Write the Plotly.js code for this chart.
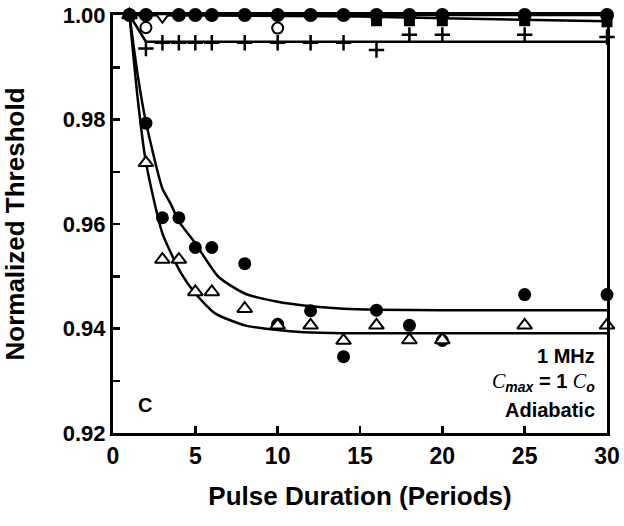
<!DOCTYPE html>
<html><head><meta charset="utf-8">
<script src="https://cdn.plot.ly/plotly-3.0.1.min.js"></script>
<style>body{margin:0;background:#fff}#chart{width:624px;height:526px}</style>
</head><body><div id="chart"></div>
<script>
// Decreasing series: filled circles
const xCircle = [1,2,3,4,5,6,8,10,12,14,16,18,20,25,30];
const yCircle = [1.000,0.9793,0.9612,0.9612,0.9555,0.9555,0.9524,0.9408,0.9434,0.9346,0.9435,0.9406,0.9377,0.9465,0.9465];
// Decreasing series: open triangles
const xTriangle = [1,2,3,4,5,6,8,10,12,14,16,18,20,25,30];
const yTriangle = [1.000,0.9717,0.9532,0.9532,0.9470,0.9470,0.9438,0.9406,0.9406,0.9377,0.9406,0.9378,0.9378,0.9406,0.9406];
// Fitted curves
const xCircleFit = [1,1.5,2,3,3.5,4,5,6.4,8,10,11.6,14,16,20,30];
const yCircleFit = [1.000,0.9885,0.9795,0.9668,0.9639,0.9605,0.9563,0.9499,0.9467,0.9451,0.9444,0.9438,0.9436,0.9435,0.9435];
const xTriangleFit = [1,1.5,2,3,4.15,5,6.2,8,10,11.6,14,20,30];
const yTriangleFit = [1.000,0.9840,0.9718,0.9582,0.9505,0.9467,0.9429,0.9406,0.9397,0.9393,0.9391,0.9391,0.9391];
// Near-unity series
const xTopCircle = [1,2,4,5,6,8,10,12,14,16,18,20,25,30];
const yTopCircle = [1,1,1,1,1,1,1,1,1,1,1,1,1,1];
const xTopFit = [1,30];
const yTopFit = [1.0,1.0];
const xOpenCircle = [2,10];
const yOpenCircle = [0.9976,0.9975];
const xDownTri = [3];
const yDownTri = [0.9996];
const xSquare = [16,18,20,25,30];
const ySquare = [0.9989,0.9989,0.9989,0.9989,0.9987];
const xSquareFit = [1,5,10,15,20,25,30];
const ySquareFit = [1.0,0.9999,0.9998,0.9997,0.9994,0.9991,0.9988];
const xPlus = [2,3,4,5,6,8,10,12,14,16,18,20,25,30];
const yPlus = [0.9936,0.9947,0.9947,0.9947,0.9947,0.9947,0.9947,0.9947,0.9947,0.9933,0.9962,0.9962,0.9962,0.9958];
const xPlusFit = [1,2,30];
const yPlusFit = [1.0,0.9949,0.9949];

const xTicks = [0,5,10,15,20,25,30];
const yTicks = [0.92,0.94,0.96,0.98,1.00];
const yTickText = ['0.92','0.94','0.96','0.98','1.00'];

const lineStyle = {color:'#000', width:2.5};
const traces = [
  {x:xCircleFit, y:yCircleFit, mode:'lines', line:Object.assign({shape:'spline', smoothing:0.6}, lineStyle)},
  {x:xTriangleFit, y:yTriangleFit, mode:'lines', line:Object.assign({shape:'spline', smoothing:0.6}, lineStyle)},
  {x:xTopFit, y:yTopFit, mode:'lines', line:lineStyle},
  {x:xSquareFit, y:ySquareFit, mode:'lines', line:lineStyle},
  {x:xPlusFit, y:yPlusFit, mode:'lines', line:lineStyle},
  {x:xCircle, y:yCircle, mode:'markers', marker:{symbol:'circle', size:13, color:'#000'}},
  {x:xTriangle, y:yTriangle, mode:'markers', marker:{symbol:'triangle-up', size:13, color:'#fff', line:{color:'#000', width:2}}},
  {x:xSquare, y:ySquare, mode:'markers', marker:{symbol:'square', size:11, color:'#000'}},
  {x:xPlus, y:yPlus, mode:'markers', marker:{symbol:'cross-thin', size:11, line:{color:'#000', width:2.5}}},
  {x:xOpenCircle, y:yOpenCircle, mode:'markers', marker:{symbol:'circle', size:11, color:'#fff', line:{color:'#000', width:2}}},
  {x:xDownTri, y:yDownTri, mode:'markers', marker:{symbol:'triangle-down', size:11, color:'#fff', line:{color:'#000', width:2}}},
  {x:xTopCircle, y:yTopCircle, mode:'markers', marker:{symbol:'circle', size:14, color:'#000'}}
];
traces.forEach(t => { t.showlegend = false; t.cliponaxis = false; t.hoverinfo = 'skip'; });

const font = {family:'Liberation Sans, Arial, sans-serif', color:'#000', weight:'bold'};
const layout = {
  width:624, height:526,
  margin:{l:113, r:17, t:15, b:93},
  paper_bgcolor:'#fff', plot_bgcolor:'#fff',
  showlegend:false,
  xaxis:{
    range:[0,30], tickvals:xTicks, ticks:'inside', ticklen:7, tickwidth:2.5, tickcolor:'#000',
    showline:true, linewidth:3, linecolor:'#000', mirror:true, showgrid:false, zeroline:false,
    tickfont:Object.assign({size:23}, font),
    title:{text:'Pulse Duration (Periods)', font:Object.assign({size:26}, font), standoff:20}
  },
  yaxis:{
    range:[0.92,1.0], tickvals:yTicks, ticktext:yTickText, ticks:'inside', ticklen:7, tickwidth:2.5, tickcolor:'#000',
    minor:{dtick:0.01, tick0:0.92, ticks:'inside', ticklen:7, tickwidth:2.5, tickcolor:'#000', showgrid:false},
    showline:true, linewidth:3, linecolor:'#000', mirror:true, showgrid:false, zeroline:false,
    tickfont:Object.assign({size:22}, font),
    title:{text:'Normalized Threshold', font:Object.assign({size:26}, font), standoff:33}
  },
  annotations:[
    {xref:'paper', yref:'paper', x:0.98, y:0.185, xanchor:'right', yanchor:'middle', showarrow:false,
     text:'1 MHz', font:Object.assign({size:20}, font)},
    {xref:'paper', yref:'paper', x:0.98, y:0.12, xanchor:'right', yanchor:'middle', showarrow:false,
     text:'<span style="font-family:Liberation Serif;font-style:italic;font-weight:normal">C</span><sub><i>max</i></sub> = 1 <span style="font-family:Liberation Serif;font-style:italic;font-weight:normal">C</span><sub><i>o</i></sub>',
     font:Object.assign({size:20}, font)},
    {xref:'paper', yref:'paper', x:0.98, y:0.055, xanchor:'right', yanchor:'middle', showarrow:false,
     text:'Adiabatic', font:Object.assign({size:20}, font)},
    {xref:'paper', yref:'paper', x:0.065, y:0.066, xanchor:'center', yanchor:'middle', showarrow:false,
     text:'C', font:Object.assign({size:20}, font)}
  ]
};
Plotly.newPlot('chart', traces, layout, {staticPlot:true, displayModeBar:false});
</script></body></html>
